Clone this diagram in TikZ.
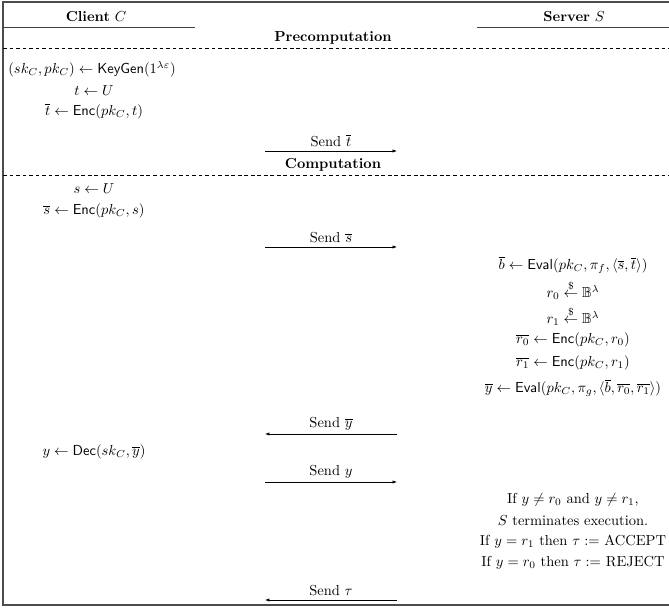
\documentclass[tikz,border=0pt]{standalone}
\usepackage{amsmath}
\usepackage{amssymb}
\usepackage{tikz}
\usetikzlibrary{arrows.meta,positioning}

\newcommand{\KeyGen}{\mathsf{KeyGen}}
\newcommand{\Enc}{\mathsf{Enc}}
\newcommand{\Dec}{\mathsf{Dec}}
\newcommand{\Eval}{\mathsf{Eval}}
\newcommand{\rnd}{\stackrel{\$}{\leftarrow}}

\begin{document}
\begin{tikzpicture}[x=0.69pt,y=-0.69pt,
        msg/.style={-{Latex[length=3pt,width=2.2pt]}},
        lbl/.style={above,inner sep=2.6pt},
        sep/.style={dash pattern=on 2.6pt off 1.9pt},
        rule/.style={line width=0.6pt,black!75}]
                \useasboundingbox (0,0) rectangle (669,608);
                \draw[line width=0.8pt,black!70] (3,2) rectangle (690,605);

                % header
                \node (cli) at (96,17) {\textbf{Client} $C$};
                \node (srv) at (574,17) {\textbf{Server} $S$};
                \coordinate (cl0) at (3,27);
                \coordinate (cl1) at (195,27);
                \coordinate (sr0) at (477,27);
                \coordinate (sr1) at (690,27);
                \draw[rule] (cl0) -- (cl1);
                \draw[rule] (sr0) -- (sr1);

                \node (pre) at (333,38) {\textbf{Precomputation}};
                \draw[sep] (3,48) -- (690,48);

                \node (kg) at (92,69) {$(sk_C, pk_C) \leftarrow \KeyGen(1^{\lambda\varepsilon})$};
                \node (tu) at (94,91) {$t \leftarrow U$};
                \node (te) at (94,111) {$\overline{t} \leftarrow \Enc(pk_C, t)$};

                \coordinate (m1a) at (265,151);
                \coordinate (m1b) at (397,151);
                \draw[msg] (m1a) -- node[lbl] (m1) {Send $\overline{t}$} (m1b);

                \node (comp) at (333,165) {\textbf{Computation}};
                \draw[sep] (3,175) -- (690,175);

                \node (su) at (94,189) {$s \leftarrow U$};
                \node (se) at (94,211) {$\overline{s} \leftarrow \Enc(pk_C, s)$};

                \coordinate (m2a) at (265,247);
                \coordinate (m2b) at (397,247);
                \draw[msg] (m2a) -- node[lbl] (m2) {Send $\overline{s}$} (m2b);

                \node (bev) at (573,265) {$\overline{b} \leftarrow \Eval(pk_C, \pi_f, \langle \overline{s}, \overline{t} \rangle)$};
                \node (r0) at (573,290) {$r_0 \rnd \mathbb{B}^\lambda$};
                \node (r1) at (573,316) {$r_1 \rnd \mathbb{B}^\lambda$};
                \node (r0e) at (573,340) {$\overline{r_0} \leftarrow \Enc(pk_C, r_0)$};
                \node (r1e) at (573,363) {$\overline{r_1} \leftarrow \Enc(pk_C, r_1)$};
                \node (yev) at (573,388) {$\overline{y} \leftarrow \Eval(pk_C, \pi_g, \langle \overline{b}, \overline{r_0}, \overline{r_1} \rangle)$};

                \coordinate (m3a) at (397,434);
                \coordinate (m3b) at (265,434);
                \draw[msg] (m3a) -- node[lbl] (m3) {Send $\overline{y}$} (m3b);

                \node (yd) at (94,452) {$y \leftarrow \Dec(sk_C, \overline{y})$};

                \coordinate (m4a) at (265,482);
                \coordinate (m4b) at (397,482);
                \draw[msg] (m4a) -- node[lbl] (m4) {Send $y$} (m4b);

                \node (chk) at (573,500) {If $y \neq r_0$ and $y \neq r_1$,};
                \node (term) at (573,521) {$S$ terminates execution.};
                \node (acc) at (573,542) {If $y = r_1$ then $\tau :=$ ACCEPT};
                \node (rej) at (573,563) {If $y = r_0$ then $\tau :=$ REJECT};

                \coordinate (m5a) at (397,600);
                \coordinate (m5b) at (265,600);
                \draw[msg] (m5a) -- node[lbl] (m5) {Send $\tau$} (m5b);
\end{tikzpicture}
\end{document}
